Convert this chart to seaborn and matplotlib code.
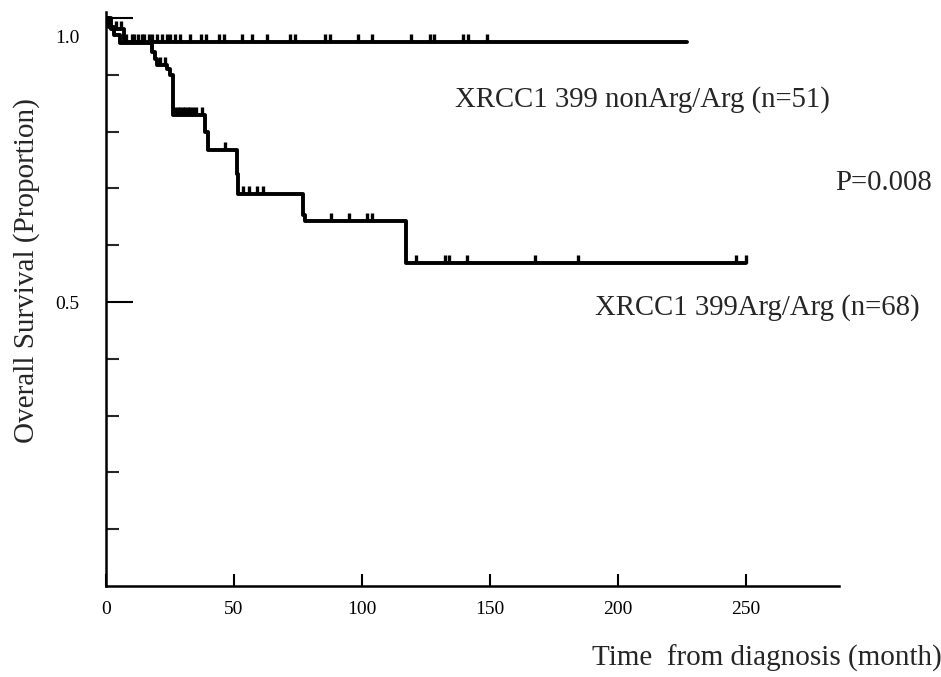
import numpy as np
import pandas as pd
import matplotlib
matplotlib.use("Agg")
import matplotlib.pyplot as plt
import seaborn as sns
from matplotlib.path import Path
from matplotlib.transforms import ScaledTranslation

# Kaplan-Meier steps (months, proportion surviving)
nonarg_times = [0, 2, 7, 227]
nonarg_surv = [1.0, 0.98, 0.958, 0.958]
nonarg_censored = [4, 6, 8, 10, 11, 12.5, 14, 15, 17, 18, 20, 22, 24, 25, 27, 29, 33, 37, 39,
                   44, 46, 53, 57, 63, 72, 74, 85.5, 87.5, 98.5, 104, 119, 126.5, 128, 139.5,
                   141.5, 149]

argarg_times = [0, 1, 3, 5.5, 18, 19, 20, 24, 25, 26, 38.5, 40, 51, 51.5, 77, 77.8, 117, 250]
argarg_surv = [1.0, 0.985, 0.97, 0.956, 0.941, 0.927, 0.918, 0.911, 0.899, 0.83, 0.80, 0.767,
               0.726, 0.691, 0.654, 0.643, 0.569, 0.569]
argarg_censored = [21, 23, 27, 28, 29, 30, 31, 32, 33, 34, 35, 37.5, 46.5, 53.5, 56, 59, 61.5,
                   88, 95, 102, 104, 121, 132.5, 134, 141, 167.5, 184.5, 246, 250]

labels = ["XRCC1 399 nonArg/Arg (n=51)", "XRCC1 399Arg/Arg (n=68)"]
p_value = "P=0.008"
y_major = [0.5, 1.0]
y_minor = [0.1, 0.2, 0.3, 0.4, 0.6, 0.7, 0.8, 0.9]
x_ticks = [0, 50, 100, 150, 200, 250]


def survival_at(t, times, surv):
    idx = np.searchsorted(times, t, side="right") - 1
    return np.asarray(surv)[idx]


sns.set_style("ticks")
plt.rcParams["font.family"] = ["Liberation Serif", "DejaVu Serif"]

fig = plt.figure(figsize=(9.41, 6.77), dpi=100)
ax = fig.add_axes([0.1126, 0.1344, 0.779, 0.8474])

# tick marks for censored patients: short line rising from the curve
cens_marker = Path([(0, 0), (0, 1)], [Path.MOVETO, Path.LINETO])

for times, surv, cens in [(nonarg_times, nonarg_surv, nonarg_censored),
                          (argarg_times, argarg_surv, argarg_censored)]:
    df = pd.DataFrame({"time": times, "surv": surv})
    sns.lineplot(data=df, x="time", y="surv", ax=ax, color="black", lw=2.8,
                 drawstyle="steps-post", estimator=None, sort=False)
    cdf = pd.DataFrame({"time": cens, "surv": survival_at(cens, times, surv)})
    sns.scatterplot(data=cdf, x="time", y="surv", ax=ax, marker=cens_marker, s=130,
                    color="black", edgecolor="black", linewidth=2.4, zorder=3)

ax.set_xlim(0, 286.3)
ax.set_ylim(0, 1.01)
sns.despine(ax=ax)
for side in ["left", "bottom"]:
    ax.spines[side].set_linewidth(1.8)
    ax.spines[side].set_color("black")

ax.set_xticks(x_ticks)
ax.set_xticklabels([str(v) for v in x_ticks])
ax.set_yticks(y_major)
ax.set_yticklabels(["1.0" if v == 1.0 else str(v) for v in y_major])
ax.set_yticks(y_minor, minor=True)
ax.tick_params(axis="x", direction="in", length=8.6, width=1.5, pad=11, labelsize=14,
               colors="black")
ax.tick_params(axis="y", which="major", direction="in", length=19.4, width=1.5, pad=19,
               labelsize=14, colors="black")
ax.tick_params(axis="y", which="minor", direction="in", length=9.4, width=1.5)

ax.set_xlabel("Time  from diagnosis (month)", fontsize=21, ha="right", va="center")
ax.xaxis.set_label_coords(1.140, -0.1255)
ax.set_ylabel("Overall Survival (Proportion)", fontsize=21, va="center")
ax.yaxis.set_label_coords(-0.108, 0.549)

ax.text(136.3, 0.857, labels[0], fontsize=20.7, va="center", ha="left")
ax.text(191, 0.491, labels[1], fontsize=20.7, va="center", ha="left")
ax.text(284.8, 0.710, p_value, fontsize=20.7, va="center", ha="left", clip_on=False)

# the "1.0" label sits a little below its tick in the original
fig.canvas.draw()
top_label = ax.yaxis.get_major_ticks()[1].label1
top_label.set_transform(top_label.get_transform() + ScaledTranslation(0, -0.18, fig.dpi_scale_trans))

fig.savefig("out.png", dpi=100, facecolor="white")
